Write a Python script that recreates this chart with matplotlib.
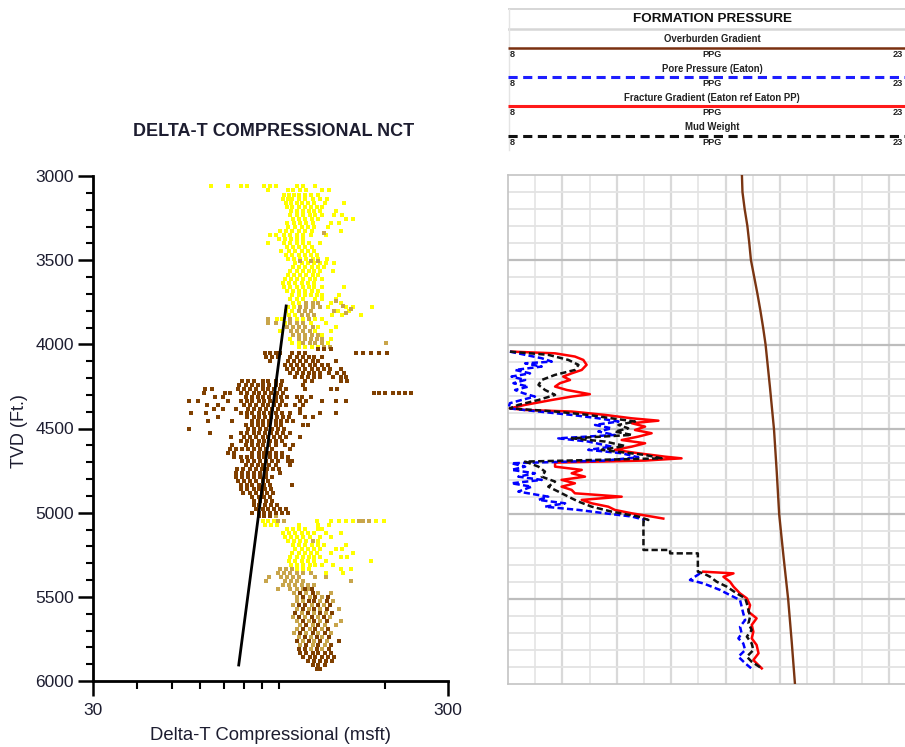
import numpy as np
import matplotlib
matplotlib.use("Agg")
import matplotlib.pyplot as plt
from matplotlib.ticker import FixedLocator, NullFormatter

plt.rcParams['font.family'] = ['Liberation Sans', 'DejaVu Sans']

# ---------------- DATA ----------------
# Delta-T compressional crossplot points, grouped by depth row: (TVD ft, [DT us/ft, ...])
yellow_rows = [
    (3059, [64.6, 72.2, 78.1, 81.7, 91.2, 94.8, 98.6, 112.3, 117.5, 127.0]),
    (3083, [93.6, 106.6, 110.1, 115.2, 119.8, 132.9, 138.3]),
    (3113, [103.8, 107.3, 110.8, 114.5, 119.0, 123.0, 129.5]),
    (3137, [103.2, 106.6, 109.4, 113.8, 118.3, 124.6, 131.2, 136.5]),
    (3160, [105.2, 108.7, 112.3, 116.0, 120.6, 125.4, 134.7, 152.4]),
    (3184, [105.9, 109.4, 113.8, 118.3, 123.0, 127.9, 132.9]),
    (3208, [108.7, 113.0, 116.8, 121.4, 126.2, 131.2, 144.7]),
    (3232, [108.0, 112.3, 117.5, 122.2, 127.0, 132.1, 142.8, 150.4]),
    (3255, [110.1, 114.5, 119.0, 123.8, 128.7, 154.4, 161.6]),
    (3279, [105.9, 110.8, 115.2, 119.8, 124.6, 140.1, 147.5]),
    (3303, [106.6, 111.5, 116.0, 120.6, 125.4, 137.4]),
    (3327, [101.2, 105.2, 109.4, 113.8, 118.3, 123.8, 149.4]),
    (3351, [94.8, 98.0, 103.8, 108.0, 113.0, 117.5, 123.0, 135.6]),
    (3374, [100.5, 104.5, 108.7, 113.0, 117.5]),
    (3398, [93.6, 103.8, 108.0, 112.3, 116.8, 121.4, 131.2]),
    (3422, [105.9, 110.1, 114.5, 119.0, 123.8]),
    (3446, [101.8, 107.3, 111.5, 116.0, 120.6, 125.4]),
    (3469, [105.2, 109.4, 113.8, 118.3, 123.0, 127.9]),
    (3493, [106.6, 110.8, 115.2, 119.8, 124.6, 129.5, 136.5]),
    (3517, [111.5, 116.0, 120.6, 125.4, 130.4, 135.6, 142.8]),
    (3541, [110.1, 114.5, 119.0, 123.8, 128.7, 133.8]),
    (3564, [108.0, 112.3, 116.8, 121.4, 126.2, 131.2, 141.9]),
    (3588, [106.6, 110.8, 115.2, 119.8, 124.6, 129.5]),
    (3612, [104.5, 108.7, 113.0, 117.5, 122.2, 127.0, 132.1]),
    (3636, [103.2, 107.3, 111.5, 116.0, 120.6, 125.4]),
    (3659, [103.8, 108.0, 112.3, 116.8, 121.4, 126.2, 132.9, 152.4]),
    (3683, [105.9, 110.1, 114.5, 119.0, 123.8, 128.7]),
    (3707, [109.4, 113.8, 118.3, 123.0, 127.9, 132.9, 147.5]),
    (3731, [108.0, 112.3, 116.8, 127.0, 132.1, 144.7]),
    (3755, [110.1, 114.5, 140.1, 149.4]),
    (3778, [106.6, 110.8, 137.4, 154.4, 161.6, 182.8]),
    (3802, [105.2, 109.4, 146.6, 157.4]),
    (3826, [107.3, 111.5, 141.0, 150.4, 170.2]),
    (3850, [99.2, 102.5, 113.0, 117.5, 127.0, 132.9]),
    (3873, [104.5, 123.0, 135.6]),
    (3897, [129.5, 144.7]),
    (3921, [101.2, 127.0, 140.1]),
    (3945, [132.9]),
    (3968, [108.0, 140.1]),
    (3992, [109.4, 113.8, 137.4]),
    (4016, [114.5, 119.0, 123.8, 128.7]),
    (5050, [90.1, 93.6, 97.3, 127.9, 140.1, 147.5, 154.4, 161.6, 187.6, 197.6]),
    (5073, [91.8, 95.4, 99.2, 113.8, 129.5, 138.3]),
    (5097, [105.9, 110.1, 114.5, 119.0, 128.7, 132.9]),
    (5121, [103.2, 107.3, 111.5, 116.0, 120.6, 125.4, 135.6, 149.4]),
    (5145, [104.5, 108.7, 113.0, 117.5, 122.2, 131.2, 140.1]),
    (5168, [106.6, 110.8, 115.2, 119.8, 124.6, 129.5]),
    (5192, [110.1, 114.5, 119.0, 123.8, 128.7, 133.8, 154.4]),
    (5216, [111.5, 116.0, 120.6, 125.4, 130.4, 144.7, 150.4]),
    (5240, [109.4, 113.8, 118.3, 123.0, 127.9, 140.1, 161.6]),
    (5263, [108.0, 112.3, 116.8, 121.4, 126.2, 131.2, 149.4, 155.4]),
    (5287, [107.3, 111.5, 116.0, 120.6, 125.4, 135.6, 181.6]),
    (5311, [108.7, 113.0, 117.5, 122.2, 127.0, 132.1, 141.9]),
    (5335, [112.3, 116.8, 121.4, 149.4, 159.5]),
    (5358, [135.6, 151.4]),
]

tan_rows = [
    (3340, [133.8]),
    (3505, [115.2, 123.0, 129.5]),
    (3740, [144.7]),
    (3755, [119.8, 124.6, 129.5]),
    (3770, [151.4]),
    (3778, [115.2, 119.8, 124.6, 131.2]),
    (3790, [159.5]),
    (3802, [113.8, 118.3, 123.0, 142.8]),
    (3815, [154.4]),
    (3826, [116.0, 120.6, 125.4]),
    (3850, [93.6, 108.0, 121.4]),
    (3873, [93.6, 98.6, 108.0, 112.3, 116.8]),
    (3897, [105.9, 110.1, 114.5, 119.0, 124.6]),
    (3921, [108.7, 113.0, 117.5, 122.2]),
    (3945, [110.1, 114.5, 119.0, 123.8, 128.7]),
    (3968, [113.8, 118.3, 123.0, 127.9, 132.9]),
    (3992, [117.5, 122.2, 127.0, 132.1, 200.2]),
    (4016, [133.8, 139.2]),
    (5020, [94.8, 98.6]),
    (5050, [99.9, 103.8, 168.0, 172.4, 179.3]),
    (5168, [124.6]),
    (5335, [101.2, 105.2, 109.4]),
    (5358, [99.9, 103.8, 108.0, 112.3, 116.8, 123.0]),
    (5382, [94.2, 101.8, 105.9, 110.1, 114.5, 127.0, 135.6]),
    (5406, [92.4, 104.5, 108.7, 113.0, 117.5, 159.5]),
    (5430, [103.2, 107.3, 111.5, 116.0, 120.6, 125.4]),
    (5454, [99.9, 108.0, 112.3, 116.8, 121.4]),
    (5477, [110.8, 119.8, 129.5, 140.1]),
    (5501, [113.0, 122.2, 132.1]),
    (5525, [112.3, 116.8, 131.2, 141.9]),
    (5549, [110.1, 123.8, 133.8]),
    (5572, [112.3, 121.4, 131.2, 147.5]),
    (5596, [116.0, 125.4, 135.6]),
    (5620, [110.1, 119.0, 128.7, 139.2]),
    (5644, [112.3, 121.4, 131.2, 149.4]),
    (5667, [115.2, 124.6, 134.7, 144.7]),
    (5691, [113.0, 122.2, 132.1]),
    (5715, [110.8, 119.8, 129.5, 140.1]),
    (5739, [113.8, 123.0, 132.9]),
    (5762, [116.8, 126.2, 136.5]),
    (5786, [115.2, 124.6, 134.7]),
    (5810, [123.0, 132.9]),
]

brown_rows = [
    (4028, [128.7, 133.8, 140.1]),
    (4052, [91.8, 94.8, 98.0, 101.2, 109.4, 113.8, 118.3, 164.8, 172.4, 181.6, 191.3, 201.5]),
    (4075, [92.4, 96.1, 99.9, 108.0, 112.3, 116.8, 121.4, 126.2, 132.9]),
    (4099, [94.8, 106.6, 110.8, 115.2, 119.8, 124.6, 129.5, 144.7]),
    (4123, [104.5, 108.7, 113.0, 117.5, 122.2, 127.0, 132.1, 137.4]),
    (4147, [105.9, 110.1, 114.5, 119.0, 123.8, 128.7, 133.8, 139.2, 149.4]),
    (4170, [108.0, 112.3, 116.8, 121.4, 126.2, 131.2, 138.3, 145.6, 152.4]),
    (4194, [111.5, 116.0, 120.6, 125.4, 130.4, 141.9, 149.4, 154.4]),
    (4218, [79.1, 82.2, 85.5, 90.1, 93.6, 98.6, 102.5, 118.3, 123.8, 149.4, 155.4]),
    (4242, [77.5, 80.7, 83.9, 87.2, 90.6, 94.2, 98.0, 101.8, 117.5]),
    (4265, [62.2, 65.0, 77.0, 80.1, 83.3, 86.6, 90.1, 93.6, 97.3, 101.2, 105.2, 119.0, 140.1, 145.6]),
    (4289, [61.8, 70.8, 73.1, 78.6, 81.7, 85.0, 88.3, 91.8, 95.4, 99.2, 103.2,
            185.2, 191.3, 198.9, 209.5, 217.8, 226.4, 235.4]),
    (4313, [66.4, 69.9, 80.7, 83.9, 87.2, 90.6, 94.2, 98.0, 101.8, 105.9, 112.3, 116.0, 123.0]),
    (4337, [56.0, 59.4, 72.2, 78.1, 81.2, 84.4, 87.8, 91.2, 94.8, 98.6, 102.5, 115.2, 119.8, 132.9, 144.7, 154.4]),
    (4360, [63.0, 67.6, 80.1, 83.3, 86.6, 90.1, 93.6, 97.3, 101.2, 105.2, 111.5, 117.5]),
    (4384, [65.9, 69.5, 76.0, 82.2, 85.5, 88.9, 92.4, 96.1, 99.9, 115.2]),
    (4408, [56.8, 62.6, 78.1, 81.2, 84.4, 87.8, 91.2, 94.8, 98.6, 102.5, 108.0, 115.2, 131.2, 144.7]),
    (4432, [67.6, 81.7, 85.0, 88.3, 91.8, 95.4, 99.2, 103.2, 107.3, 119.0, 124.6]),
    (4456, [63.4, 74.1, 83.9, 87.2, 90.6, 94.2, 98.0, 101.8, 105.9, 110.1]),
    (4479, [80.7, 83.9, 87.2, 90.6, 94.2, 98.0, 101.8, 117.5, 120.6]),
    (4503, [56.0, 82.2, 85.5, 88.9, 92.4, 96.1, 99.9, 103.8]),
    (4527, [64.2, 78.6, 81.7, 85.0, 88.3, 91.8, 95.4, 99.2, 103.2, 108.0]),
    (4551, [73.6, 80.1, 83.3, 86.6, 90.1, 93.6, 97.3, 101.2, 105.2, 115.2]),
    (4574, [78.1, 81.2, 84.4, 87.8, 91.2, 94.8, 98.6, 102.5]),
    (4598, [74.1, 80.7, 83.9, 87.2, 90.6, 94.2, 98.0, 104.5, 110.1]),
    (4622, [73.1, 76.0, 79.1, 82.2, 85.5, 88.9, 92.4, 96.1, 108.0]),
    (4646, [72.2, 75.0, 84.4, 87.8, 91.2, 94.8, 98.6, 102.5]),
    (4669, [75.0, 78.1, 81.2, 84.4, 87.8, 91.2, 94.8, 98.6, 102.5, 106.6]),
    (4693, [79.1, 82.2, 85.5, 88.9, 92.4, 96.1, 99.9, 106.6, 109.4]),
    (4717, [80.7, 83.9, 87.2, 90.6, 94.2, 98.0, 108.0]),
    (4741, [76.5, 79.6, 82.8, 86.1, 89.5, 93.0, 96.7, 100.5]),
    (4764, [76.0, 79.1, 82.2, 85.5, 88.9, 92.4, 101.2]),
    (4788, [76.0, 79.1, 82.2, 85.5, 88.9, 92.4, 96.1]),
    (4812, [77.0, 80.1, 83.3, 86.6, 90.1, 93.6]),
    (4836, [78.1, 81.2, 84.4, 87.8, 91.2, 94.8, 109.4]),
    (4860, [78.6, 81.7, 85.0, 88.3, 91.8, 95.4]),
    (4883, [79.6, 82.8, 86.1, 89.5, 93.0, 96.7]),
    (4907, [84.4, 87.8, 91.2, 94.8]),
    (4931, [85.5, 88.9, 92.4, 96.1]),
    (4955, [85.0, 88.3, 91.8, 95.4, 99.2]),
    (4978, [86.6, 90.1, 93.6, 97.3, 101.2, 105.2]),
    (5002, [84.4, 87.8, 91.2, 94.8, 98.6, 102.5, 106.6]),
    (5020, [87.8, 91.2, 94.8]),
    (5454, [119.0, 123.8]),
    (5477, [115.2, 124.6]),
    (5501, [117.5, 127.0, 137.4]),
    (5525, [121.4, 126.2, 136.5]),
    (5549, [114.5, 119.0, 128.7, 139.2]),
    (5572, [116.8, 126.2, 136.5]),
    (5596, [111.5, 120.6, 130.4, 141.0]),
    (5620, [114.5, 123.8, 133.8]),
    (5644, [116.8, 126.2, 136.5]),
    (5667, [119.8, 129.5]),
    (5691, [117.5, 127.0, 137.4]),
    (5715, [115.2, 124.6, 134.7]),
    (5739, [118.3, 127.9, 138.3]),
    (5762, [112.3, 121.4, 131.2, 147.5]),
    (5786, [119.8, 129.5, 140.1]),
    (5810, [113.8, 118.3, 127.9, 138.3]),
    (5834, [115.2, 119.8, 124.6, 129.5, 134.7, 140.1]),
    (5857, [117.5, 122.2, 127.0, 132.1, 137.4, 142.8]),
    (5881, [120.6, 125.4, 130.4, 135.6, 141.0]),
    (5905, [124.6, 129.5, 134.7]),
    (5929, [127.9, 131.2]),
]

# Normal compaction trend line
nct_depth = [3772, 5905]
nct_dt = [105.0, 77.2]

# Formation pressure track (PPG)
ob_depth = [3000, 3100, 3200, 3300, 3400, 3500, 3600, 3700, 3800, 3900, 4000,
            4250, 4500, 4750, 5000, 5250, 5500, 5750, 6000]
ob_ppg = [16.60, 16.62, 16.70, 16.80, 16.87, 16.93, 17.05, 17.17, 17.28, 17.38, 17.47,
          17.63, 17.78, 17.88, 17.97, 18.13, 18.30, 18.43, 18.55]

pp_depth_1 = [4041, 4060, 4080, 4100, 4110, 4129, 4149, 4169, 4188, 4208,
              4227, 4247, 4267, 4286, 4306, 4326, 4345, 4375, 4394, 4414,
              4434, 4453, 4473, 4493, 4512, 4532, 4552, 4571, 4601, 4620,
              4640, 4664, 4683, 4699, 4719, 4738, 4758, 4778, 4797, 4817,
              4837, 4866, 4896, 4915, 4935, 4955, 4974, 4994, 5013, 5033]
pp_ppg_1 = [8.07, 8.63, 9.24, 9.61, 8.63, 9.24, 8.26, 8.81, 8.13, 8.63,
            8.20, 8.75, 8.26, 8.56, 8.99, 8.50, 8.07, 8.01, 9.12, 10.34,
            11.32, 12.06, 11.20, 11.81, 11.32, 11.93, 9.85, 10.95, 11.81, 10.95,
            12.18, 12.79, 11.57, 8.13, 8.63, 8.13, 8.99, 8.38, 9.24, 8.13,
            8.87, 8.38, 9.48, 9.12, 10.10, 9.36, 10.59, 11.57, 12.55, 13.04]
pp_depth_2 = [5348, 5387, 5407, 5446, 5476, 5505, 5544, 5584, 5623, 5662,
              5702, 5731, 5761, 5800, 5839, 5878, 5918]
pp_ppg_2 = [15.06, 14.69, 15.18, 15.80, 16.16, 16.53, 16.59, 16.65, 16.72, 16.53,
            16.59, 16.47, 16.65, 16.72, 16.47, 16.72, 17.02]

fg_depth_1 = [4041, 4051, 4070, 4090, 4119, 4149, 4169, 4188, 4208, 4227,
              4247, 4267, 4292, 4306, 4326, 4355, 4375, 4385, 4394, 4414,
              4434, 4448, 4463, 4483, 4503, 4522, 4542, 4562, 4581, 4601,
              4620, 4640, 4660, 4670, 4683, 4695, 4719, 4738, 4758, 4778,
              4797, 4817, 4837, 4856, 4876, 4896, 4915, 4935, 4955, 4974,
              4994, 5013, 5025]
fg_ppg_1 = [8.13, 9.73, 10.46, 10.77, 10.89, 10.71, 10.34, 10.03, 10.28, 9.91,
            9.73, 10.16, 11.01, 10.34, 9.61, 8.63, 8.07, 8.63, 10.34, 11.57,
            12.55, 13.53, 12.55, 13.04, 12.67, 13.28, 12.79, 12.18, 13.04, 12.55,
            11.93, 12.79, 13.77, 14.38, 13.04, 9.73, 9.73, 10.71, 10.34, 10.83,
            9.97, 10.46, 9.97, 10.34, 10.46, 12.18, 10.71, 11.08, 11.69, 11.93,
            12.55, 13.28, 13.71]
fg_depth_2 = [5338, 5348, 5368, 5397, 5426, 5466, 5495, 5535, 5574, 5613,
              5652, 5692, 5731, 5770, 5819, 5859, 5908]
fg_ppg_2 = [15.18, 16.29, 15.92, 16.16, 16.29, 16.53, 16.78, 16.90, 16.84, 17.14,
            16.96, 17.02, 16.96, 17.14, 17.21, 17.02, 17.33]

mw_depth = [4041, 4060, 4090, 4119, 4149, 4178, 4208, 4237, 4267, 4296,
            4326, 4355, 4375, 4394, 4414, 4434, 4453, 4473, 4493, 4512,
            4532, 4552, 4571, 4597, 4620, 4650, 4670, 4689, 4719, 4748,
            4778, 4807, 4837, 4866, 4896, 4925, 4955, 4984, 5013, 5033,
            5040, 5210, 5210, 5230, 5230, 5338, 5348, 5368, 5397, 5426,
            5466, 5495, 5525, 5564, 5603, 5643, 5682, 5721, 5761, 5800,
            5839, 5869, 5908]
mw_ppg = [8.07, 9.48, 10.22, 10.59, 10.46, 9.73, 9.24, 9.12, 9.36, 9.73,
          9.12, 8.38, 8.07, 9.73, 10.95, 11.81, 12.67, 12.06, 12.42, 11.93,
          12.55, 10.34, 11.57, 12.30, 11.44, 13.04, 13.65, 8.63, 9.12, 9.36,
          9.24, 9.73, 9.48, 9.85, 10.22, 10.59, 11.08, 11.81, 12.79, 13.16,
          12.98, 12.98, 13.96, 13.96, 14.98, 14.98, 15.18, 15.43, 15.67, 16.04,
          16.41, 16.72, 16.78, 16.84, 16.90, 16.84, 16.96, 16.78, 16.96, 17.02,
          16.78, 16.96, 17.33]

ppg_min, ppg_max = 8, 23
y_ticks = [3000, 3500, 4000, 4500, 5000, 5500, 6000]
x_tick_labels = ['30', '300']

# ---------------- FIGURE ----------------
W, H = 905, 747
fig = plt.figure(figsize=(W / 100, H / 100), dpi=100)
fig.patch.set_facecolor('white')


def fx(px):
    return px / W


def fy(py):
    return 1 - py / H


def expand(rows):
    d = [depth for depth, vals in rows for _ in vals]
    v = [x for depth, vals in rows for x in vals]
    return np.array(d, float), np.array(v, float)


TXT = '#1d1d30'

# ---- left crossplot ----
axL = fig.add_axes([fx(93), fy(681), (448 - 93) / W, (681 - 176) / H])
for rows, col in ((yellow_rows, '#FFFF00'), (tan_rows, '#C8A54B'), (brown_rows, '#804000')):
    d, v = expand(rows)
    axL.scatter(v, d, s=9, marker='s', c=col, linewidths=0, zorder=2)
axL.plot(nct_dt, nct_depth, color='black', lw=2.0, zorder=3)

axL.set_xscale('log')
axL.set_xlim(30, 300)
axL.set_ylim(6000, 3000)
axL.xaxis.set_major_locator(FixedLocator([30, 300]))
axL.set_xticklabels(x_tick_labels)
axL.xaxis.set_minor_locator(FixedLocator([40, 50, 60, 70, 80, 90, 100, 200]))
axL.xaxis.set_minor_formatter(NullFormatter())
axL.yaxis.set_major_locator(FixedLocator(y_ticks))
axL.set_yticklabels([str(t) for t in y_ticks])
axL.yaxis.set_minor_locator(FixedLocator(list(range(3000, 6001, 100))))
for s in ('top', 'right'):
    axL.spines[s].set_visible(False)
for s in ('left', 'bottom'):
    axL.spines[s].set_linewidth(2.0)
    axL.spines[s].set_color('black')
axL.tick_params(which='major', length=10.8, width=1.8, labelsize=12.5,
                labelcolor=TXT, color='black')
axL.tick_params(axis='y', which='major', pad=3)
axL.tick_params(axis='x', which='major', pad=5)
axL.tick_params(which='minor', length=5.4, width=1.5, color='black')

fig.text(fx(274), fy(131), 'DELTA-T COMPRESSIONAL NCT', ha='center', va='center',
         fontsize=13, fontweight='bold', color=TXT)
fig.text(fx(270), fy(735), 'Delta-T Compressional (msft)', ha='center', va='center',
         fontsize=13.3, color=TXT)
fig.text(fx(19), fy(431), 'TVD (Ft.)', ha='center', va='center', rotation=90,
         fontsize=13, color=TXT)

# ---- right pressure track ----
axR = fig.add_axes([fx(508), fy(684), (916 - 508) / W, (684 - 175) / H])
axR.set_xlim(ppg_min, ppg_max)
axR.set_ylim(6000, 3000)
axR.xaxis.set_major_locator(FixedLocator(list(range(10, 23, 2))))
axR.xaxis.set_minor_locator(FixedLocator(list(range(9, 23, 2))))
axR.yaxis.set_major_locator(FixedLocator([3500, 4000, 4500, 5000, 5500]))
axR.yaxis.set_minor_locator(FixedLocator([d for d in range(3100, 6000, 100) if d % 500]))
axR.xaxis.grid(True, which='major', color='#D9D9D9', lw=1.6)
axR.xaxis.grid(True, which='minor', color='#E6E6E6', lw=1.3)
axR.yaxis.grid(True, which='major', color='#BDBDBD', lw=1.6)
axR.yaxis.grid(True, which='minor', color='#E3E3E3', lw=1.3)
axR.set_axisbelow(True)
axR.tick_params(which='both', length=0, labelbottom=False, labelleft=False)
for s in axR.spines.values():
    s.set_color('#C4C4C4')
    s.set_linewidth(1.2)

axR.plot(fg_ppg_1, fg_depth_1, color='#FF0000', lw=1.8, zorder=3)
axR.plot(fg_ppg_2, fg_depth_2, color='#FF0000', lw=1.8, zorder=3)
axR.plot(pp_ppg_1, pp_depth_1, color='#0000FF', lw=1.8, dashes=(2.5, 1.3), zorder=4)
axR.plot(pp_ppg_2, pp_depth_2, color='#0000FF', lw=1.8, dashes=(2.5, 1.3), zorder=4)
axR.plot(mw_ppg, mw_depth, color='#111111', lw=1.8, dashes=(2.5, 1.3), zorder=5)
axR.plot(ob_ppg, ob_depth, color='#7A3512', lw=1.7, zorder=6)

# ---- header ----
axH = fig.add_axes([fx(508), fy(152), (916 - 508) / W, (152 - 6) / H])
axH.set_xlim(508, 916)
axH.set_ylim(152, 6)
axH.axis('off')
axH.plot([508, 916], [8.5, 8.5], color='#D6D6D6', lw=1.4)
axH.plot([508, 916], [28.5, 28.5], color='#D6D6D6', lw=1.8)
axH.plot([508.6, 508.6], [8.5, 150], color='#E4E4E4', lw=1.0)
axH.text(712, 18.5, 'FORMATION PRESSURE', ha='center', va='center',
         fontsize=9.7, fontweight='bold', color='#111111')
legend_items = [
    ('Overburden Gradient', 39.5, 47.8, dict(color='#7A3010', lw=1.8)),
    ('Pore Pressure (Eaton)', 69.0, 76.5, dict(color='#1E1EFF', lw=2.2, dashes=(3.0, 1.8))),
    ('Fracture Gradient (Eaton ref Eaton PP)', 98.3, 105.8, dict(color='#FF1A1A', lw=2.2)),
    ('Mud Weight', 127.5, 135.5, dict(color='#111111', lw=2.2, dashes=(3.0, 1.8))),
]
for label, ty, ly, style in legend_items:
    axH.text(712, ty, label, ha='center', va='center', fontsize=6.9,
             fontweight='bold', color='#222222')
    axH.plot([508, 916], [ly, ly], solid_capstyle='butt', **style)
    axH.text(510, ly + 7, str(ppg_min), ha='left', va='center', fontsize=6.6,
             fontweight='bold', color='#222222')
    axH.text(712, ly + 7, 'PPG', ha='center', va='center', fontsize=6.6,
             fontweight='bold', color='#222222')
    axH.text(903, ly + 7, str(ppg_max), ha='right', va='center', fontsize=6.6,
             fontweight='bold', color='#222222')

fig.savefig('out.png', dpi=100, facecolor='white')
